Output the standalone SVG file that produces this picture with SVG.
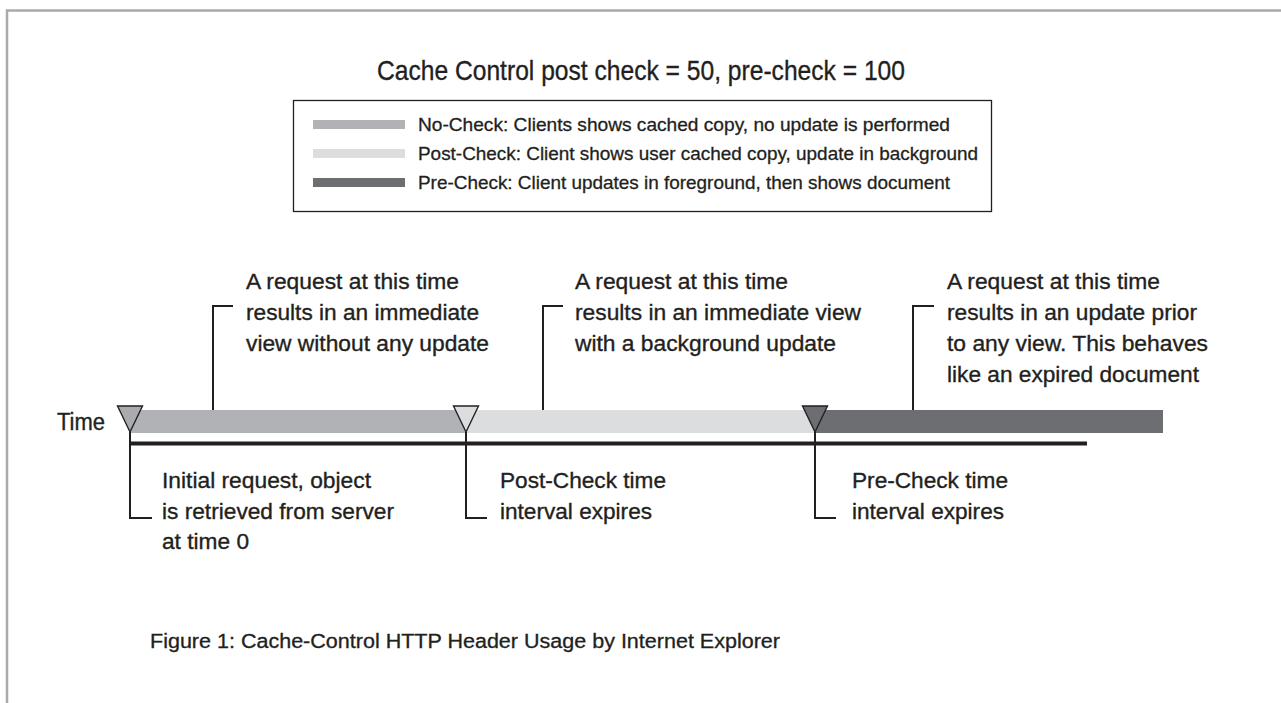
<svg xmlns="http://www.w3.org/2000/svg" width="1281" height="703" viewBox="0 0 1281 703">
  <defs>
    <style>
      text { font-family: "Liberation Sans Narrow", "Liberation Sans", Arial, sans-serif; fill: #231f20; stroke: #231f20; stroke-width: 0.35px; }
      .title { font-size: 28px; }
      .legend { font-size: 18.5px; stroke-width: 0.3px; }
      .note { font-size: 22px; }
      .axis { font-size: 23px; }
      .caption { font-size: 19.5px; stroke-width: 0.3px; }
      .lead { fill: none; stroke: #231f20; stroke-width: 2; }
      .tick { stroke: #231f20; stroke-width: 1.4; stroke-linejoin: miter; }
      .nocheck { fill: #b1b2b5; }
      .postcheck { fill: #dcdddf; }
      .precheck { fill: #6d6e71; }
    </style>
  </defs>

  <rect width="1281" height="703" fill="#ffffff"/>

  <!-- outer frame (top and left edges) -->
  <path d="M7 703 V10.5 H1281" fill="none" stroke="#aaaaaa" stroke-width="2.5"/>

  <g id="title">
    <text class="title" x="377" y="80" textLength="528" lengthAdjust="spacingAndGlyphs">Cache Control post check = 50, pre-check = 100</text>
  </g>

  <g id="legend">
    <rect x="293.5" y="100.5" width="698" height="111" fill="#ffffff" stroke="#231f20" stroke-width="1.3"/>
    <rect class="nocheck" x="313" y="120" width="92" height="9"/>
    <text class="legend" x="418" y="131" textLength="532" lengthAdjust="spacingAndGlyphs">No-Check: Clients shows cached copy, no update is performed</text>
    <rect class="postcheck" x="313" y="149" width="92" height="9"/>
    <text class="legend" x="418" y="160" textLength="560" lengthAdjust="spacingAndGlyphs">Post-Check: Client shows user cached copy, update in background</text>
    <rect class="precheck" x="313" y="178" width="92" height="9"/>
    <text class="legend" x="418" y="189" textLength="532" lengthAdjust="spacingAndGlyphs">Pre-Check: Client updates in foreground, then shows document</text>
  </g>

  <g id="timeline">
    <text class="axis" x="57" y="430" textLength="48" lengthAdjust="spacingAndGlyphs">Time</text>
    <rect class="nocheck" x="130" y="410" width="336" height="23"/>
    <rect class="postcheck" x="466" y="410" width="349" height="23"/>
    <rect class="precheck" x="815" y="410" width="348" height="23"/>
    <line x1="130" y1="443.5" x2="1087" y2="443.5" stroke="#231f20" stroke-width="4"/>
  </g>

  <g id="markers">
    <path id="marker-initial" class="tick" d="M117.5 406 H142.5 L130 432 Z" fill="#a9abae"/>
    <path id="marker-postcheck" class="tick" d="M453.5 406 H478.5 L466 432 Z" fill="#dcdddf"/>
    <path id="marker-precheck" class="tick" d="M802.5 406 H827.5 L815 432 Z" fill="#6d6e71"/>
  </g>

  <g id="connectors">
    <path class="lead" d="M233 306 H213 V410"/>
    <path class="lead" d="M563 306 H543 V410"/>
    <path class="lead" d="M934 306 H913 V410"/>
    <path class="lead" d="M130 432 V518 H152"/>
    <path class="lead" d="M466 432 V518 H487"/>
    <path class="lead" d="M815 432 V518 H836"/>
  </g>

  <g id="note-nocheck">
    <text class="note" x="246" y="289" textLength="213" lengthAdjust="spacingAndGlyphs">A request at this time</text>
    <text class="note" x="246" y="320" textLength="233" lengthAdjust="spacingAndGlyphs">results in an immediate</text>
    <text class="note" x="246" y="351" textLength="243" lengthAdjust="spacingAndGlyphs">view without any update</text>
  </g>

  <g id="note-postcheck">
    <text class="note" x="575" y="289" textLength="213" lengthAdjust="spacingAndGlyphs">A request at this time</text>
    <text class="note" x="575" y="320" textLength="286" lengthAdjust="spacingAndGlyphs">results in an immediate view</text>
    <text class="note" x="575" y="351" textLength="261" lengthAdjust="spacingAndGlyphs">with a background update</text>
  </g>

  <g id="note-precheck">
    <text class="note" x="947" y="289" textLength="213" lengthAdjust="spacingAndGlyphs">A request at this time</text>
    <text class="note" x="947" y="320" textLength="250" lengthAdjust="spacingAndGlyphs">results in an update prior</text>
    <text class="note" x="947" y="351" textLength="261" lengthAdjust="spacingAndGlyphs">to any view. This behaves</text>
    <text class="note" x="947" y="382" textLength="252" lengthAdjust="spacingAndGlyphs">like an expired document</text>
  </g>

  <g id="note-initial">
    <text class="note" x="162" y="488" textLength="209" lengthAdjust="spacingAndGlyphs">Initial request, object</text>
    <text class="note" x="162" y="519" textLength="232" lengthAdjust="spacingAndGlyphs">is retrieved from server</text>
    <text class="note" x="162" y="549" textLength="87" lengthAdjust="spacingAndGlyphs">at time 0</text>
  </g>

  <g id="note-postcheck-expiry">
    <text class="note" x="500" y="488" textLength="166" lengthAdjust="spacingAndGlyphs">Post-Check time</text>
    <text class="note" x="500" y="519" textLength="152" lengthAdjust="spacingAndGlyphs">interval expires</text>
  </g>

  <g id="note-precheck-expiry">
    <text class="note" x="852" y="488" textLength="156" lengthAdjust="spacingAndGlyphs">Pre-Check time</text>
    <text class="note" x="852" y="519" textLength="152" lengthAdjust="spacingAndGlyphs">interval expires</text>
  </g>

  <g id="caption">
    <text class="caption" x="150" y="648" textLength="630" lengthAdjust="spacingAndGlyphs">Figure 1: Cache-Control HTTP Header Usage by Internet Explorer</text>
  </g>
</svg>
